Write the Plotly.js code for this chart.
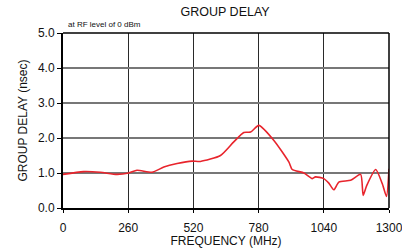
<!DOCTYPE html>
<html><head><meta charset="utf-8">
<script src="https://cdn.plot.ly/plotly-3.0.1.min.js"></script>
<style>html,body{margin:0;padding:0;background:#fff}#c{width:402px;height:248px}</style>
</head><body><div id="c"></div>
<script>
const freqMHz = [0, 82, 149, 215, 262, 295, 355, 402, 455, 515, 548, 628, 681, 721, 748, 781, 841, 901, 914, 961, 994, 1007, 1040, 1060, 1080, 1100, 1147, 1187, 1197, 1211, 1247, 1273, 1290, 1300];
const delayNs = [0.96, 1.04, 1.02, 0.96, 1.0, 1.08, 1.02, 1.17, 1.27, 1.34, 1.33, 1.5, 1.89, 2.16, 2.17, 2.36, 1.93, 1.31, 1.1, 1.0, 0.84, 0.89, 0.84, 0.71, 0.52, 0.74, 0.79, 0.96, 0.36, 0.64, 1.1, 0.70, 0.33, 1.12];
const xTicks = [0, 260, 520, 780, 1040, 1300];
const yTicks = [0, 1, 2, 3, 4, 5];
const yTickLabels = ['0.0', '1.0', '2.0', '3.0', '4.0', '5.0'];

const font = 'Liberation Sans, Arial, sans-serif';
Plotly.newPlot('c', [{
  x: freqMHz, y: delayNs, type: 'scatter', mode: 'lines',
  line: {color: '#e8242c', width: 1.6, shape: 'spline', smoothing: 0.6},
  hoverinfo: 'skip', cliponaxis: false
}], {
  width: 402, height: 248,
  margin: {l: 63, r: 13, t: 33, b: 40},
  paper_bgcolor: '#fff', plot_bgcolor: '#fff',
  showlegend: false,
  title: {text: 'GROUP DELAY', font: {family: font, size: 12.5, color: '#111'}, x: 0.56, xanchor: 'center', y: 0.955, yanchor: 'middle'},
  font: {family: font, color: '#111'},
  xaxis: {
    range: [0, 1300], tickvals: xTicks, ticktext: xTicks.map(String),
    showgrid: true, gridcolor: '#2a2a2a', gridwidth: 1,
    showline: true, linecolor: '#000', linewidth: 2, mirror: false,
    zeroline: false, ticks: 'outside', ticklen: 3, tickcolor: '#000', tickwidth: 1,
    ticklabeloverflow: 'allow', ticklabelstandoff: 5,
    tickfont: {size: 12, family: font, color: '#111'},
    title: {text: 'FREQUENCY (MHz)', font: {size: 12, family: font, color: '#111'}, standoff: 3}
  },
  yaxis: {
    range: [0, 5], tickvals: yTicks, ticktext: yTickLabels,
    showgrid: true, gridcolor: '#777', gridwidth: 1.5,
    showline: true, linecolor: '#000', linewidth: 2,
    zeroline: false, ticks: 'outside', ticklen: 4, tickcolor: '#000', tickwidth: 1,
    tickfont: {size: 12, family: font, color: '#111'},
    title: {text: 'GROUP DELAY (nsec)', font: {size: 12, family: font, color: '#111'}, standoff: 8}
  },
  shapes: [
    {type: 'line', xref: 'paper', yref: 'paper', x0: 0, x1: 1, y0: 1, y1: 1, line: {color: '#000', width: 1.5}},
    {type: 'line', xref: 'paper', yref: 'paper', x0: 1, x1: 1, y0: 0, y1: 1, line: {color: '#000', width: 1.5}}
  ],
  annotations: [{
    text: 'at RF level of 0 dBm', xref: 'paper', yref: 'paper', x: 0.01, y: 1.01,
    xanchor: 'left', yanchor: 'bottom', showarrow: false,
    font: {size: 8, family: font, color: '#111'}
  }]
}, {displayModeBar: false, staticPlot: true});
</script></body></html>
